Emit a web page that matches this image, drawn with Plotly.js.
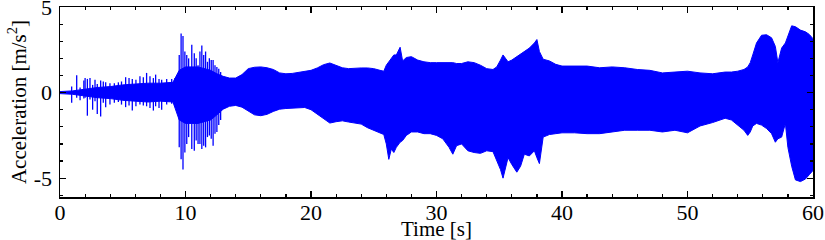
<!DOCTYPE html>
<html>
<head>
<meta charset="utf-8">
<script src="https://cdn.plot.ly/plotly-3.0.1.min.js"></script>
<style>html,body{margin:0;padding:0;background:#fff;}#chart{width:825px;height:240px;}</style>
</head>
<body>
<div id="chart"></div>
<script>
// Envelope of the dense acceleration signal (time in s, values in m/s^2)
const envT = [0,1,2,3,4,5,6,7,8,9,9.5,10,11,12,12.5,13,13.5,14,14.5,15,15.5,16,16.5,17,17.5,18,18.5,19,19.5,20,20.5,21,21.5,22,22.5,23,23.5,24,24.5,25,25.5,25.8,26,26.2,26.4,26.6,26.8,27,27.1,27.3,27.6,28,28.5,29,29.5,30,30.5,31,31.3,31.6,32,32.5,33,33.5,34,34.5,34.8,35.1,35.3,35.5,35.7,36,36.4,36.7,37,37.4,37.8,38,38.2,38.5,39,39.5,40,41,42,43,44,45,46,47,48,49,50,51,52,53,53.5,54,54.5,54.8,55,55.2,55.5,55.9,56.3,56.7,57,57.2,57.5,57.8,58,58.3,58.6,59,59.4,59.7,60];
const envUpper = [0.06,0.1,0.2,0.3,0.35,0.45,0.5,0.55,0.55,0.6,1.3,1.5,1.5,1.3,1.1,0.95,0.85,0.85,1.05,1.4,1.48,1.5,1.45,1.35,1.15,1.1,1.12,1.17,1.22,1.3,1.44,1.63,1.73,1.6,1.45,1.4,1.44,1.44,1.44,1.4,1.3,1.25,1.6,1.8,2.0,2.2,2.2,2.55,2.65,1.85,2.05,2.1,1.9,1.8,1.75,1.75,1.75,1.75,1.75,1.7,1.7,1.8,1.75,1.6,1.4,1.35,1.5,1.9,2.2,2.0,1.8,1.9,2.1,2.2,2.4,2.6,2.9,3.1,2.4,1.95,1.85,1.65,1.55,1.55,1.55,1.45,1.5,1.45,1.35,1.3,1.15,1.2,1.25,1.15,1.1,1.2,1.2,1.25,1.35,1.5,1.75,2.2,2.9,3.35,3.38,3.2,2.7,1.75,2.6,2.9,3.3,3.9,3.85,3.65,3.55,3.4,3.15];
const envLower = [-0.06,-0.1,-0.2,-0.3,-0.35,-0.45,-0.5,-0.55,-0.5,-0.55,-1.6,-1.8,-1.8,-1.6,-1.3,-0.97,-0.8,-0.75,-0.85,-1.1,-1.3,-1.35,-1.27,-1.1,-0.97,-0.93,-0.9,-0.87,-0.87,-1.0,-1.25,-1.55,-1.78,-1.7,-1.65,-1.72,-1.8,-1.84,-2.05,-2.2,-2.35,-2.45,-3.0,-3.9,-3.3,-3.5,-3.2,-3.0,-2.9,-2.8,-2.5,-2.3,-2.3,-2.4,-2.4,-2.5,-2.7,-3.2,-3.6,-3.1,-3.0,-3.4,-3.5,-3.55,-3.4,-3.45,-3.95,-4.5,-5.0,-4.3,-3.8,-4.2,-4.65,-4.3,-3.6,-3.7,-3.4,-3.8,-4.15,-2.6,-2.45,-2.4,-2.35,-2.35,-2.4,-2.4,-2.3,-2.2,-2.2,-2.2,-2.3,-2.2,-2.35,-1.95,-1.75,-1.5,-1.6,-1.9,-2.2,-2.5,-2.3,-1.95,-1.8,-1.9,-2.1,-2.4,-2.9,-2.7,-2.6,-1.8,-3.2,-4.3,-5.1,-5.2,-5.05,-4.8,-4.55];

// Individual spikes standing out of the band during the first ~13 s
const spikeT  = [0.93,1.33,1.6,1.9,2.0,2.18,2.39,2.6,2.79,2.97,3.24,3.45,3.64,3.98,4.33,4.65,4.9,5.23,5.5,5.76,6.05,6.37,6.64,6.9,7.17,7.44,7.62,7.89,8.1,8.5,8.9,9.16,9.5,9.65,9.8,9.95,10.1,10.25,10.5,10.7,10.85,11.0,11.15,11.3,11.45,11.6,11.75,11.9,12.05,12.2,12.35,12.5,12.65,12.8];
const spikeHi = [0.35,1.02,0.3,0.7,0.85,0.8,0.85,0.45,0.75,0.5,0.7,0.65,0.6,0.55,0.55,0.6,0.65,0.9,0.85,0.8,0.75,0.95,0.9,1.15,0.95,0.85,1.05,0.8,0.75,0.8,0.8,0.85,2.2,3.45,3.3,2.4,2.2,2.0,2.8,2.3,2.0,1.6,2.4,2.75,2.2,2.4,1.8,2.0,1.9,1.9,1.6,1.5,1.4,1.2];
const spikeLo = [-0.6,-0.3,-0.45,-0.35,-0.3,-1.35,-0.4,-1.0,-0.5,-1.25,-1.4,-0.6,-0.85,-0.7,-0.6,-0.55,-0.7,-0.85,-0.75,-1.05,-0.8,-0.7,-0.75,-0.8,-0.9,-1.05,-0.8,-0.9,-1.0,-0.7,-0.65,-0.8,-3.2,-3.9,-4.5,-3.5,-3.0,-2.6,-3.3,-3.4,-2.8,-3.0,-3.0,-3.3,-3.1,-3.2,-2.6,-2.5,-2.7,-3.1,-2.4,-2.3,-1.9,-1.6];

const xTickVals = [0,10,20,30,40,50,60];
const xTickText = ['0','10','20','30','40','50','60'];
const yTickVals = [-5,0,5];
const yTickText = ['-5','0','5'];
const xTitle = 'Time [s]';
const yTitle = 'Acceleration [m/s<sup>2</sup>]';

const BLUE = 'rgb(0,0,255)';
const sx = [], sy = [];
for (let i = 0; i < spikeT.length; i++) {
  sx.push(spikeT[i], spikeT[i], null);
  sy.push(spikeHi[i], spikeLo[i], null);
}

const traces = [
  {x: envT, y: envUpper, type: 'scatter', mode: 'lines', line: {color: BLUE, width: 1}, hoverinfo: 'skip', showlegend: false},
  {x: envT, y: envLower, type: 'scatter', mode: 'lines', fill: 'tonexty', fillcolor: BLUE, line: {color: BLUE, width: 1}, hoverinfo: 'skip', showlegend: false},
  {x: sx, y: sy, type: 'scatter', mode: 'lines', line: {color: BLUE, width: 1.3}, hoverinfo: 'skip', showlegend: false, connectgaps: false}
];

const FAMILY = 'Liberation Serif, Times New Roman, serif';
const tickFont = {family: FAMILY, size: 22, color: '#000'};
const titleFont = {family: FAMILY, size: 21, color: '#000'};
const layout = {
  width: 825, height: 240,
  margin: {l: 60, r: 12, t: 7, b: 43, pad: 0},
  paper_bgcolor: '#fff', plot_bgcolor: '#fff',
  showlegend: false,
  xaxis: {
    range: [0, 60], tickvals: xTickVals, ticktext: xTickText,
    ticks: 'inside', ticklen: 6, tickwidth: 1.2, tickcolor: '#000',
    minor: {dtick: 2, tick0: 0, ticks: 'inside', ticklen: 3, tickcolor: '#000', showgrid: false},
    showline: true, linecolor: '#000', linewidth: 1.5, mirror: 'ticks',
    showgrid: false, zeroline: false, tickfont: tickFont, ticklabelstandoff: -5,
    ticklabeloverflow: 'allow'
  },
  yaxis: {
    range: [-6.1, 5.001], tickvals: yTickVals, ticktext: yTickText,
    ticks: 'inside', ticklen: 6, tickwidth: 1.2, tickcolor: '#000',
    minor: {dtick: 1, tick0: 0, ticks: 'inside', ticklen: 3, tickcolor: '#000', showgrid: false},
    showline: true, linecolor: '#000', linewidth: 1.5, mirror: 'ticks',
    showgrid: false, zeroline: false, tickfont: tickFont, ticklabelstandoff: 2,
    ticklabeloverflow: 'allow',
    title: {text: yTitle, font: titleFont, standoff: 1}
  },
  annotations: [{
    text: xTitle, xref: 'paper', yref: 'paper', x: 0.5, y: -0.166,
    xanchor: 'center', yanchor: 'middle', showarrow: false, font: titleFont
  }]
};

Plotly.newPlot('chart', traces, layout, {staticPlot: true, displayModeBar: false});
</script>
</body>
</html>
